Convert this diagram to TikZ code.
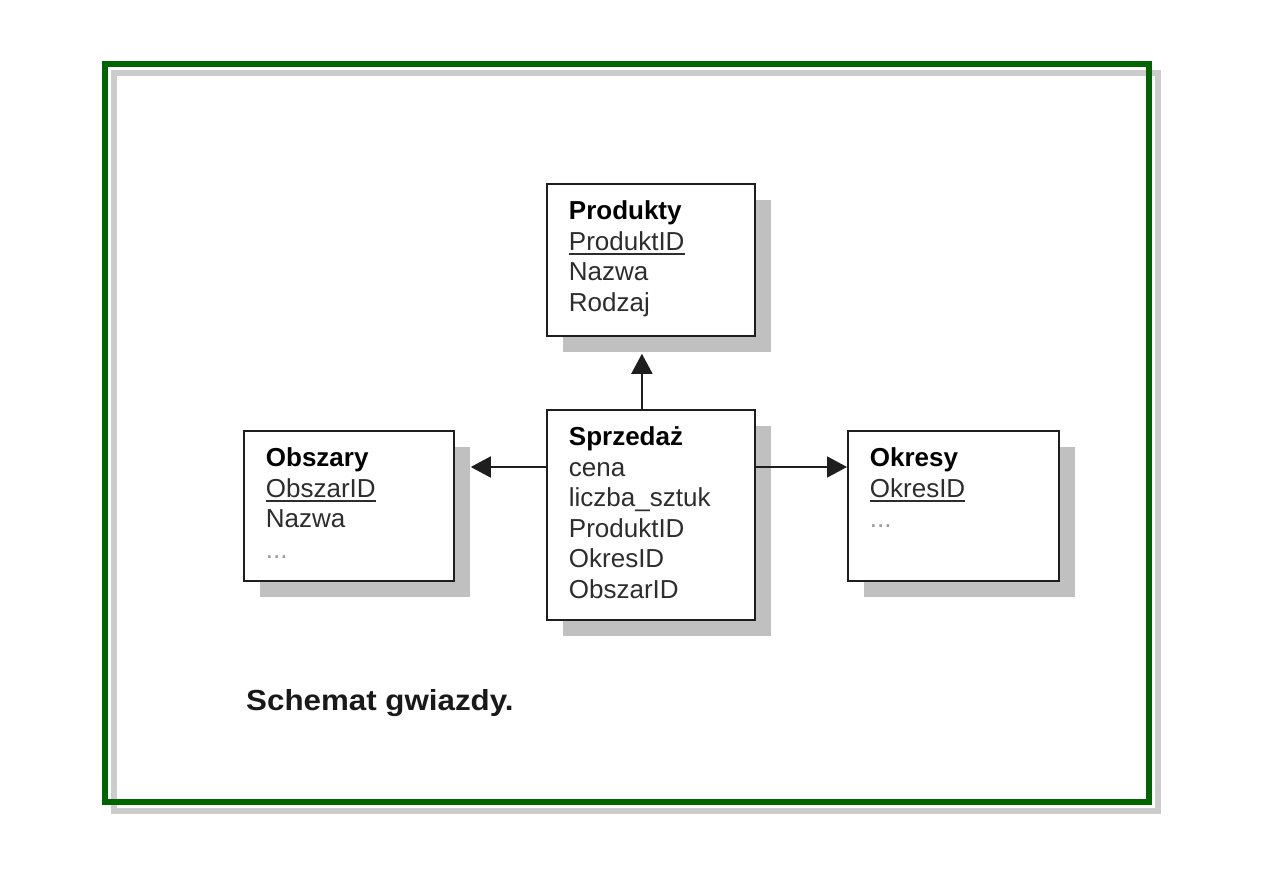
\documentclass[tikz,border=0pt]{standalone}
\usepackage{graphicx}
\usepackage{fontspec}
\setmainfont{Liberation Sans}
\usetikzlibrary{arrows.meta,shadows}
\definecolor{framegreen}{RGB}{0,100,0}
\definecolor{framegray}{RGB}{204,204,204}
\definecolor{shadowgray}{RGB}{192,192,192}
\definecolor{boxline}{RGB}{30,30,30}
\definecolor{txt}{RGB}{45,45,45}
\newcommand\keyline[1]{\setbox0\hbox{#1}\rlap{\rule[-4.5pt]{\wd0}{1.8pt}}\box0}
\newcommand\entity[3]{\begin{minipage}[t][#2][t]{#1}\fontsize{26}{30.5}\selectfont\color{txt}\leftskip=22pt\rule{0pt}{36pt}#3\end{minipage}}
\newcommand\enttitle[1]{\textcolor{black}{\textbf{#1}}}
\newcommand\moredots{\textcolor{gray!80}{...}}
\begin{document}
\begin{tikzpicture}[x=1pt,y=-1pt,
  entbox/.style={draw=boxline, line width=1.8pt, fill=white, inner sep=0pt, anchor=north west,
    drop shadow={shadow xshift=16pt, shadow yshift=-16pt, fill=shadowgray, opacity=1, draw=none}},
  conn/.style={draw=boxline, line width=1.8pt, -{Triangle[length=20pt,width=21pt]}},
  framegrayline/.style={draw=framegray, line width=6pt},
  framegreenline/.style={draw=framegreen, line width=6pt}]
\useasboundingbox[fill=white] (0,0) rectangle (1263,893);
% frame
\draw[framegrayline] (114,73) rectangle (1158,811);
\draw[framegreenline] (105,64) rectangle (1149,802);
% entities
\node[entbox] (prod) at (546,183) {\entity{208pt}{152pt}{\enttitle{Produkty}\\\keyline{ProduktID}\\Nazwa\\Rodzaj}};
\node[entbox] (sales) at (546,409) {\entity{208pt}{210pt}{\enttitle{Sprzedaż}\\cena\\liczba\_sztuk\\ProduktID\\OkresID\\ObszarID}};
\node[entbox] (obsz) at (243,430) {\entity{210pt}{150pt}{\enttitle{Obszary}\\\keyline{ObszarID}\\Nazwa\\\moredots}};
\node[entbox] (okr) at (847,430) {\entity{211pt}{150pt}{\enttitle{Okresy}\\\keyline{OkresID}\\\moredots}};
% connectors
\draw[conn, shorten >=17pt] ([xshift=-9pt]sales.north) -- ([xshift=-9pt]prod.south);
\draw[conn, shorten >=16pt] ([yshift=-58pt]sales.north west) -- ([yshift=-37pt]obsz.north east);
\draw[conn] ([yshift=-58pt]sales.north east) -- ([yshift=-37pt]okr.north west);
% caption
\node[anchor=base west, inner sep=0pt, text=black!90, font=\fontsize{29}{34}\selectfont\bfseries] (cap) at (246,710) {\scalebox{1.08}[1]{Schemat gwiazdy.}};
\end{tikzpicture}
\end{document}
